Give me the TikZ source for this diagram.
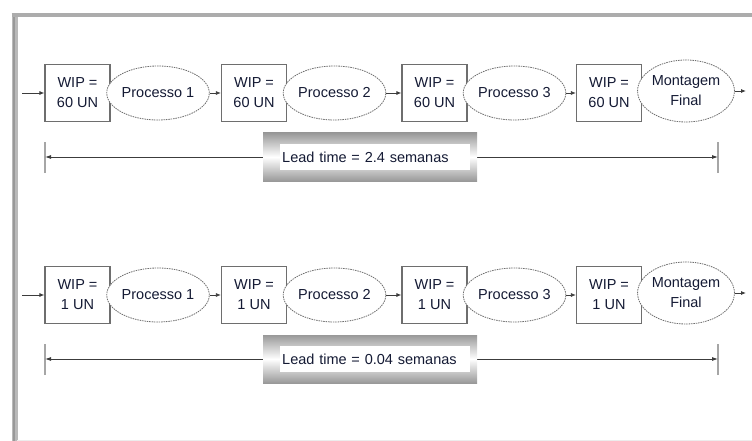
\documentclass[tikz,border=0pt]{standalone}
\usepackage{fontspec}
\setmainfont{Liberation Sans}
\usetikzlibrary{shapes.geometric,arrows.meta}
\definecolor{ink}{RGB}{20,26,52}
\definecolor{edgegray}{RGB}{110,110,110}
\definecolor{linegray}{RGB}{60,60,60}
\begin{document}
\begin{tikzpicture}[x=1pt,y=-1pt,
  every node/.style={font=\fontsize{14.5}{20}\selectfont, text=ink},
  wipbox/.style={draw=edgegray, line width=1.2pt, rectangle, fill=white,
    minimum width=65pt, minimum height=57pt, inner sep=0pt, align=center},
  procell/.style={draw=edgegray, dash pattern=on 1.5pt off 0.9pt, line width=0.8pt,
    ellipse, fill=white, minimum width=88pt, minimum height=54pt, inner sep=0pt, align=center},
  finalcell/.style={procell, minimum width=82pt, minimum height=62pt},
  flow/.style={draw=linegray, line width=0.8pt, -{Latex[length=5pt,width=4pt]}},
  spanline/.style={draw=linegray, line width=0.8pt,
    {Latex[length=6pt,width=4pt]}-{Latex[length=6pt,width=4pt]}},
  spantick/.style={draw=gray!70, line width=1.4pt},
  leadframe/.style={rectangle, draw=none, minimum width=214pt, minimum height=48pt,
    inner sep=0pt, top color=gray!80, bottom color=gray!80, middle color=white},
  leadtext/.style={rectangle, fill=white, anchor=west, text width=186pt, align=left,
    inner xsep=2pt, inner ysep=0pt, minimum height=26pt}
]
\useasboundingbox (0,0) rectangle (752,441);

% outer frame
\draw[gray!55, line width=6pt] (14.5,441) -- (14.5,15);
\draw[gray!80, line width=2pt] (14,441) -- (14,15);
\draw[gray!65, line width=3.5pt] (11.5,15) -- (752,15);
\draw[gray!15, line width=1pt] (17,440.5) -- (752,440.5);

% the two flow lines
\foreach \yy/\wip/\lead/\rr in {93/60/2.4/a, 295/1/0.04/b} {
  \node[wipbox]   (w1\rr) at (77.5,\yy)  {WIP =\\\wip\ UN};
  \node[procell]  (p1\rr) at (158,\yy)   {Processo 1};
  \node[wipbox]   (w2\rr) at (254,\yy)   {WIP =\\\wip\ UN};
  \node[procell]  (p2\rr) at (334.5,\yy) {Processo 2};
  \node[wipbox]   (w3\rr) at (434.5,\yy) {WIP =\\\wip\ UN};
  \node[procell, minimum width=85pt] (p3\rr) at (514.5,\yy) {Processo 3};
  \node[wipbox]   (w4\rr) at (609,\yy)   {WIP =\\\wip\ UN};
  \node[finalcell](p4\rr) at (686,\yy-2) {Montagem\\Final};

  \coordinate (in\rr)  at (22,\yy);
  \coordinate (out\rr) at (746,\yy-2);
  \draw[flow] (in\rr) -- (w1\rr);
  \draw[flow] (p1\rr) -- (w2\rr);
  \draw[flow] (p2\rr) -- (w3\rr);
  \draw[flow] (p3\rr) -- (w4\rr);
  \draw[flow] (p4\rr) -- (out\rr);

  % lead time span
  \coordinate (lt\rr) at (45,\yy+64);
  \coordinate (rt\rr) at (718,\yy+64);
  \draw[spantick] ([yshift=-16pt]lt\rr) -- ([yshift=15pt]lt\rr);
  \draw[spantick] ([yshift=-16pt]rt\rr) -- ([yshift=15pt]rt\rr);
  \draw[spanline] (lt\rr) -- (rt\rr);
  \node[leadframe] (lf\rr) at (370,\yy+64) {};
  \node[leadtext]  (lb\rr) at (280,\yy+64) {Lead time = \lead\ semanas};
}
\end{tikzpicture}
\end{document}
